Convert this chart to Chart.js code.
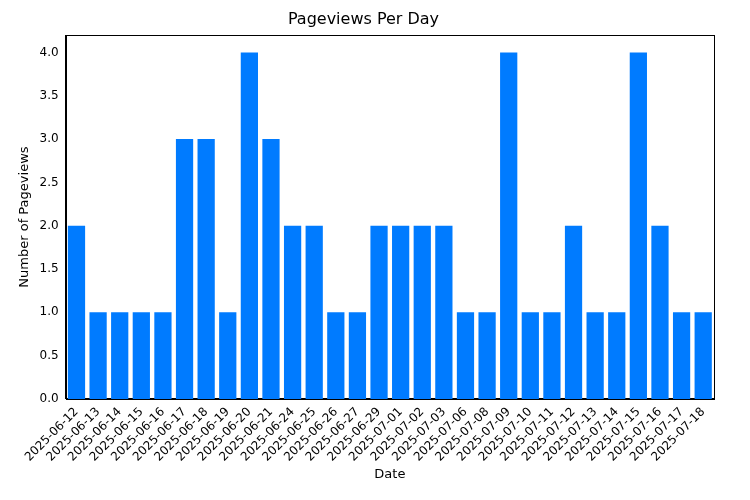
<!DOCTYPE html>
<html>
<head>
<meta charset="utf-8">
<script src="https://cdn.jsdelivr.net/npm/chart.js"></script>
<style>
  body { margin: 0; background: #fff; }
  #wrap { width: 750px; height: 500px; position: relative; }
</style>
</head>
<body>
<div id="wrap"><canvas id="c"></canvas></div>
<script>
var dates = ['2025-06-12','2025-06-13','2025-06-14','2025-06-15','2025-06-16','2025-06-17','2025-06-18','2025-06-19','2025-06-20','2025-06-21',
  '2025-06-24','2025-06-25','2025-06-26','2025-06-27','2025-06-29','2025-07-01','2025-07-02','2025-07-03','2025-07-06','2025-07-08',
  '2025-07-09','2025-07-10','2025-07-11','2025-07-12','2025-07-13','2025-07-14','2025-07-15','2025-07-16','2025-07-17','2025-07-18'];
var pageviews = [2,1,1,1,1,3,3,1,4,3, 2,2,1,1,2,2,2,2,1,1, 4,1,1,2,1,1,4,2,1,1];

Chart.defaults.font.family = 'DejaVu Sans';
Chart.defaults.color = '#000';

// box around the plot area, like matplotlib
var frame = {
  id: 'frame',
  afterDraw: function(chart) {
    var a = chart.chartArea, ctx = chart.ctx;
    ctx.save();
    ctx.strokeStyle = '#000';
    ctx.lineWidth = 1;
    ctx.strokeRect(Math.round(a.left) + 0.5, Math.round(a.top) + 0.5, Math.round(a.right - a.left), Math.round(a.bottom - a.top));
    ctx.restore();
  }
};

new Chart(document.getElementById('c'), {
  type: 'bar',
  data: {
    labels: dates,
    datasets: [{
      data: pageviews,
      backgroundColor: '#007bff',
      borderWidth: 0,
      categoryPercentage: 0.95,
      barPercentage: 0.84
    }]
  },
  options: {
    responsive: true,
    maintainAspectRatio: false,
    animation: false,
    layout: { padding: { left: 13, right: 36, top: 0, bottom: 14 } },
    plugins: {
      legend: { display: false },
      tooltip: { enabled: false },
      title: { display: true, text: 'Pageviews Per Day', font: { size: 16, weight: 'normal' }, padding: { top: 10, bottom: 6 } }
    },
    scales: {
      x: {
        offset: true,
        grid: { display: false, offset: false, tickLength: 4 },
        border: { color: '#000' },
        ticks: { maxRotation: 45, minRotation: 45, autoSkip: false, font: { size: 12 }, padding: 2 },
        title: { display: true, text: 'Date', font: { size: 13 }, padding: { top: 0 } }
      },
      y: {
        min: 0, max: 4.2,
        grid: { display: false, tickLength: 4 },
        border: { color: '#000' },
        afterBuildTicks: function(s) {
          s.ticks = [0,0.5,1,1.5,2,2.5,3,3.5,4].map(function(v){ return { value: v }; });
        },
        ticks: { font: { size: 12 }, callback: function(v){ return Number(v).toFixed(1); } },
        title: { display: true, text: 'Number of Pageviews', font: { size: 13 } }
      }
    }
  },
  plugins: [frame]
});
</script>
</body>
</html>
